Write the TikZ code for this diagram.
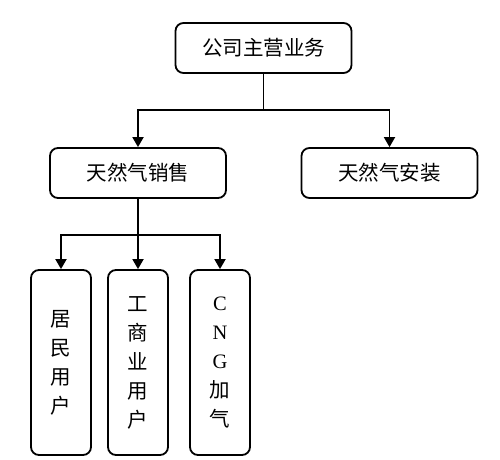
\documentclass[tikz,border=0pt]{standalone}
\usepackage{fontspec}
\setmainfont{Liberation Serif}
\newfontfamily\cjk{Noto Sans CJK SC}
\usetikzlibrary{arrows.meta}
\tikzset{
  box/.style={draw=black, line width=1.8pt, rounded corners=8pt, inner sep=0pt,
    font=\cjk\fontsize{20.5}{29}\selectfont, align=center},
  wide/.style={box, minimum width=176pt, minimum height=50pt},
  tall/.style={box, minimum width=60pt, minimum height=185pt},
  conn/.style={line width=1.8pt},
  arr/.style={conn, -{Triangle[length=10pt,width=11pt]}}
}
\begin{document}
\begin{tikzpicture}[x=1pt,y=-1pt]
\useasboundingbox (0,0) rectangle (500,459);
\node[wide] (top) at (263.5,48) {公司主营业务};
\node[wide] (sale) at (138,173) {天然气销售};
\node[wide] (inst) at (389.5,173) {天然气安装};
\node[tall] (res) at (61,362.5) {居\\民\\用\\户};
\node[tall] (com) at (138,362.5) {工\\商\\业\\用\\户};
\node[tall] (cng) at (220,362.5) {{\rmfamily C}\\{\rmfamily N}\\{\rmfamily G}\\加\\气};
\coordinate (j1) at (263.5,110);
\coordinate (j2) at (138,235);
\draw[conn] (top.south) -- (j1);
\draw[arr] (j1) -| (sale.north);
\draw[arr] (j1) -| (inst.north);
\draw[conn] (sale.south) -- (j2);
\draw[arr] (j2) -| (res.north);
\draw[arr] (j2) -- (com.north);
\draw[arr] (j2) -| (cng.north);
\end{tikzpicture}
\end{document}
